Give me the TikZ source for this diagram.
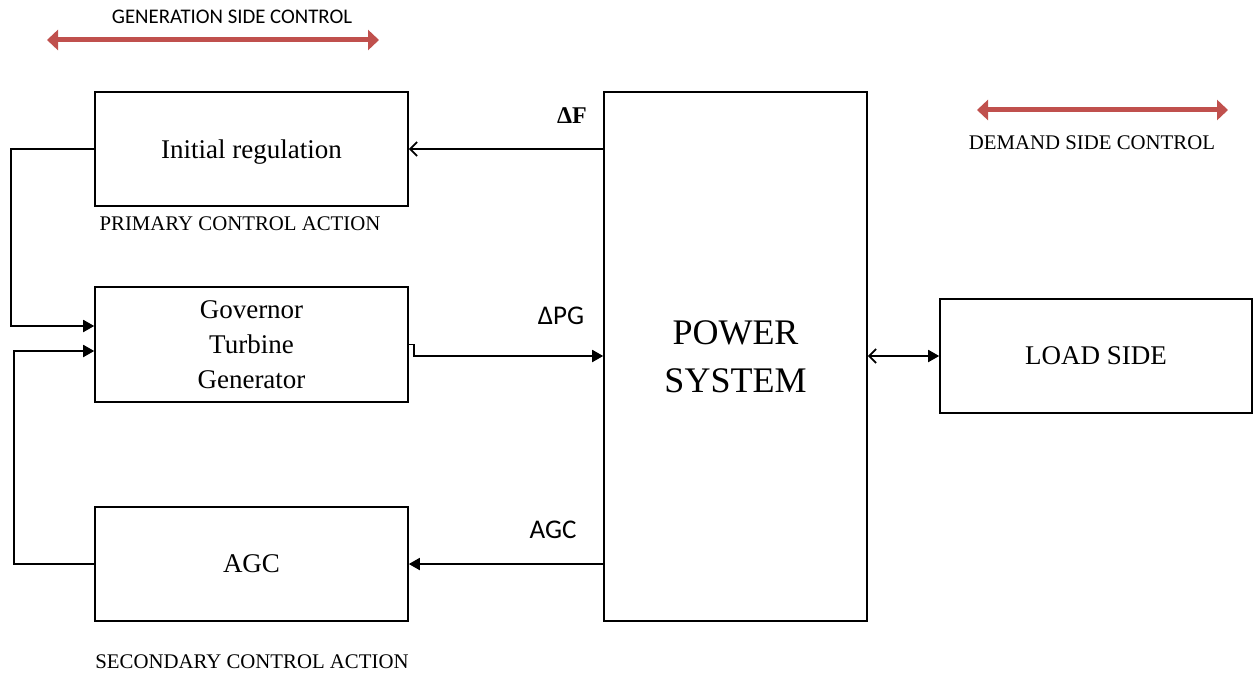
\documentclass[tikz,border=0pt]{standalone}
\usepackage{fontspec}
\setmainfont{Liberation Serif}
\newfontfamily\calib{Carlito}
\usetikzlibrary{arrows.meta}
\definecolor{redarrow}{HTML}{C0504D}
\tikzset{
  box/.style={draw, line width=1.6pt, minimum width=313pt, minimum height=114pt, inner sep=0pt, align=center, text depth=0pt, font=\fontsize{27}{35}\selectfont},
  conn/.style={line width=1.8pt},
  fill tip/.style={-{Triangle[length=11pt,width=12pt]}},
  open tip/.style={-{Straight Barb[length=7pt,width=14pt,line width=1.8pt]}},
  redarr/.style={draw=redarrow, line width=5pt, {Triangle[length=11pt,width=20pt]}-{Triangle[length=11pt,width=20pt]}},
  small/.style={font=\fontsize{20.8}{24}\selectfont, inner sep=0pt},
  sans/.style={font=\calib\fontsize{27}{30}\selectfont, inner sep=0pt},
}
\begin{document}
\begin{tikzpicture}[x=1pt,y=-1pt]
\useasboundingbox[fill=white] (0,0) rectangle (1257,674);
\node[box] (init) at (251.5,149) {Initial regulation};
\node[box, minimum height=115pt] (gov) at (251.5,344.5) {Governor\\Turbine\\Generator};
\node[box] (agc) at (251.5,564) {AGC};
\node[box, minimum width=263pt, minimum height=529pt, font=\fontsize{36}{48}\selectfont] (ps) at (735.5,356.5) {POWER\\SYSTEM};
\node[box, minimum width=312pt] (load) at (1096,356) {LOAD SIDE};
% labels
\node[small, font=\calib\fontsize{20.8}{24}\selectfont] (gen) at (232,17) {GENERATION SIDE CONTROL};
\node[small] (prim) at (240,224) {PRIMARY CONTROL ACTION};
\node[small] (sec) at (252,662) {SECONDARY CONTROL ACTION};
\node[small] (dem) at (1092,143) {DEMAND SIDE CONTROL};
\node[inner sep=0pt, font=\bfseries\fontsize{24}{28}\selectfont] (dF) at (572,116) {ΔF};
\node[sans] (dPG) at (561,316) {ΔPG};
\node[sans] (agcl) at (553,530) {AGC};
% red arrows
\coordinate (g1) at (47,40); \coordinate (g2) at (379,40);
\coordinate (d1) at (977,110); \coordinate (d2) at (1228,110);
\draw[redarr] (g1) -- (g2);
\draw[redarr] (d1) -- (d2);
% connectors
\draw[conn, open tip] (ps.west |- init.east) -- (init.east);
\draw[conn, fill tip] (gov.east) -- ++(5,0) |- (ps.west |- load.west);
\draw[conn, fill tip] (ps.west |- agc.east) -- (agc.east);
\coordinate (l1) at (11,150);
\coordinate (l2) at (14,563);
\draw[conn, fill tip] (init.west) -- (init.west -| l1) |- ([yshift=18.5pt]gov.west);
\draw[conn, fill tip] (agc.west) -- (agc.west -| l2) |- ([yshift=-6.5pt]gov.west);
\draw[conn, {Straight Barb[length=7pt,width=14pt,line width=1.8pt]}-{Triangle[length=11pt,width=12pt]}] (ps.east |- load.west) -- (load.west);
\end{tikzpicture}
\end{document}
